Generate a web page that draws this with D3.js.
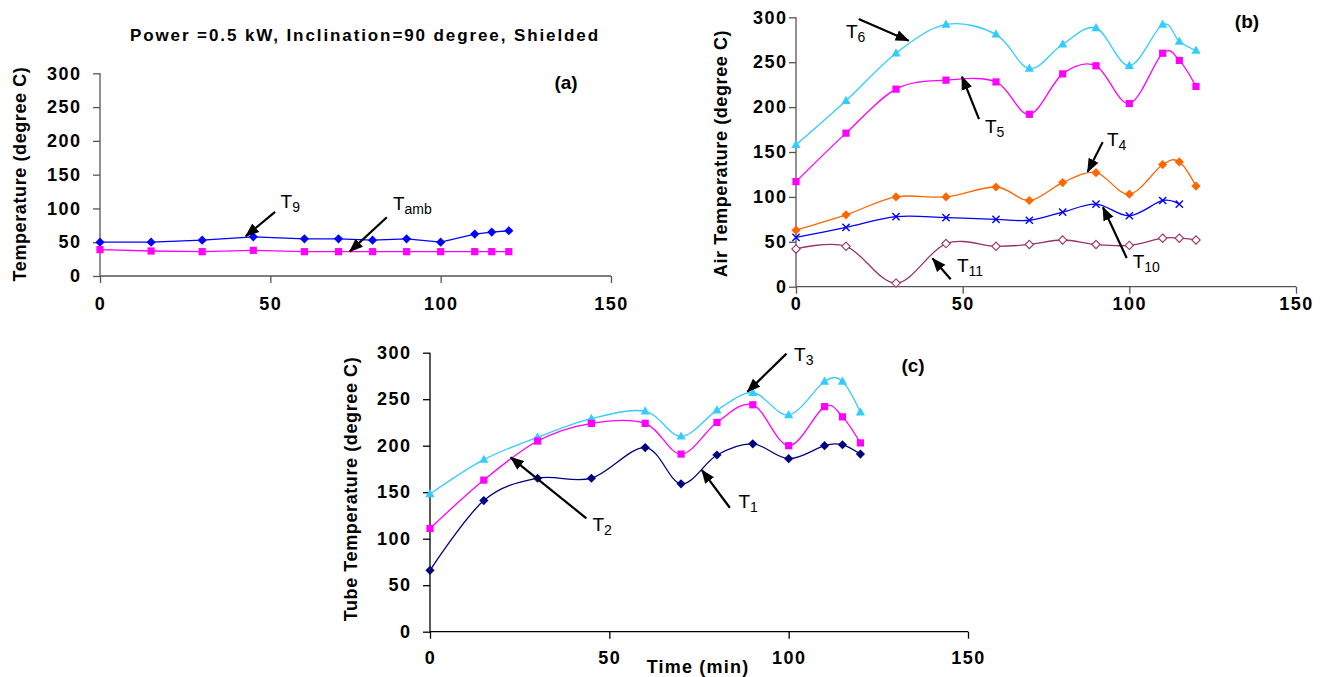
<!DOCTYPE html>
<html><head><meta charset="utf-8">
<script src="https://cdn.jsdelivr.net/npm/d3@7"></script>
<style>
body{margin:0;background:#fff;}
svg{display:block;font-family:Arial,"Liberation Sans",sans-serif;}
</style></head>
<body><svg id="c" width="1330" height="677"></svg>
<script>
// ---------------- data ----------------
const timeMin = [0, 15, 30, 45, 60, 70, 80, 90, 100, 110, 115, 120];
const xTicks = [0, 50, 100, 150];
const yTicks = [0, 50, 100, 150, 200, 250, 300];

const T9   = [50, 50, 53, 58, 55, 55, 53, 55, 50, 62, 65, 67];
const Tamb = [39, 37, 36, 38, 36, 36, 36, 36, 36, 36, 36, 36];

const T6  = [158, 207, 260, 292, 281, 243, 270, 288, 246, 292, 273, 263];
const T5  = [117, 171, 220, 230, 228, 192, 237, 246, 204, 260, 252, 223];
const T4  = [63, 80, 100, 100, 111, 96, 116, 127, 103, 136, 139, 112];
const T10 = [55, 66, 78, 77, 75, 74, 83, 92, 79, 96, 92];
const T11 = [42, 45, 4, 48, 45, 47, 52, 47, 46, 54, 54, 52];

const T3 = [148, 185, 209, 229, 237, 210, 238, 257, 233, 269, 269, 236];
const T2 = [111, 163, 205, 224, 224, 191, 225, 244, 200, 242, 231, 203];
const T1 = [66, 141, 165, 165, 198, 159, 190, 202, 186, 200, 201, 191];

const titleText = "Power =0.5 kW, Inclination=90 degree, Shielded";

// ---------------- layout ----------------
const svg = d3.select("#c");
svg.append("defs").append("marker")
  .attr("id","ah").attr("markerUnits","userSpaceOnUse")
  .attr("markerWidth",14).attr("markerHeight",12)
  .attr("viewBox","0 -6 14 12").attr("refX",13).attr("refY",0)
  .attr("orient","auto")
  .append("path").attr("d","M0,-5.5L14,0L0,5.5Z").attr("fill","#000");

const panels = [
  {id:"a", x:[100,611], y:[276,73.3], axisColor:"#555", ylabGap:20, xlabDy:35,
   ytitle:"Temperature (degree C)", ytx:26, yty:174, tag:"(a)", curve:d3.curveLinear,
   series:[
     {v:T9, color:"#0000FF", m:"diamond"},
     {v:Tamb, color:"#FF00FF", m:"square"}],
   notes:[
     {t:"T", s:"9", tx:53, ty:100, x1:51.4, y1:95, x2:42.8, y2:59},
     {t:"T", s:"amb", tx:86, ty:97.5, x1:84.2, y1:87, x2:73.3, y2:36}]},
  {id:"b", x:[796,1296], y:[286.7,17.3], axisColor:"#555", ylabGap:10, xlabDy:24.5,
   ytitle:"Air Temperature (degree C)", ytx:727, yty:153.5, tag:"(b)", curve:d3.curveCardinal.tension(0),
   series:[
     {v:T6, color:"#33CCFF", m:"triangle"},
     {v:T5, color:"#FF00FF", m:"square"},
     {v:T4, color:"#FF6600", m:"diamond"},
     {v:T10, color:"#0000FF", m:"x"},
     {v:T11, color:"#993366", m:"odiamond"}],
   notes:[
     {t:"T", s:"6", tx:15, ty:277, x1:18.8, y1:298, x2:33.8, y2:274},
     {t:"T", s:"5", tx:56.7, ty:171, x1:54.9, y1:186.6, x2:49.8, y2:234},
     {t:"T", s:"4", tx:93.3, ty:156.7, x1:92, y1:161, x2:87.5, y2:128},
     {t:"T", s:"10", tx:101, ty:20.8, x1:99.2, y1:32, x2:92.1, y2:88.4},
     {t:"T", s:"11", tx:48.3, ty:16.4, x1:46.4, y1:8.2, x2:41, y2:31.3}]},
  {id:"c", x:[430,968], y:[631.7,352.7], axisColor:"#000", ylabGap:20, xlabDy:33.5,
   ytitle:"Tube Temperature (degree C)", ytx:357, yty:489, tag:"(c)", curve:d3.curveCardinal.tension(0),
   series:[
     {v:T3, color:"#33CCFF", m:"triangle"},
     {v:T2, color:"#FF00FF", m:"square"},
     {v:T1, color:"#000080", m:"diamond"}],
   notes:[
     {t:"T", s:"3", tx:101.5, ty:291, x1:99.4, y1:299, x2:88.5, y2:258},
     {t:"T", s:"2", tx:45.3, ty:108.6, x1:43.6, y1:121.9, x2:22.5, y2:187.5},
     {t:"T", s:"1", tx:86, ty:132.6, x1:83.6, y1:133.3, x2:75.8, y2:173.8}]}
];
const tagPos = {a:[566,89], b:[1247,28], c:[913,372]};

function marker(g, type, color, x, y){
  if(type==="square"){
    g.append("rect").attr("x",x-3.6).attr("y",y-3.6).attr("width",7.2).attr("height",7.2).attr("fill",color);
  } else if(type==="diamond"){
    const r=4.6;
    g.append("path").attr("d",`M${x},${y-r}L${x+r},${y}L${x},${y+r}L${x-r},${y}Z`).attr("fill",color);
  } else if(type==="odiamond"){
    const r=4.2;
    g.append("path").attr("d",`M${x},${y-r}L${x+r},${y}L${x},${y+r}L${x-r},${y}Z`).attr("fill","#fff").attr("stroke",color).attr("stroke-width",1.1);
  } else if(type==="triangle"){
    g.append("path").attr("d",`M${x},${y-5}L${x+4.6},${y+3.2}L${x-4.6},${y+3.2}Z`).attr("fill",color);
  } else if(type==="x"){
    const r=3.6;
    g.append("path").attr("d",`M${x-r},${y-r}L${x+r},${y+r}M${x-r},${y+r}L${x+r},${y-r}`).attr("stroke",color).attr("stroke-width",1.4);
  }
}

panels.forEach(p=>{
  const x = d3.scaleLinear().domain([0,150]).range(p.x);
  const y = d3.scaleLinear().domain([0,300]).range(p.y);
  const g = svg.append("g");

  const xa = g.append("g").attr("transform",`translate(0,${p.y[0]})`)
    .call(d3.axisBottom(x).tickValues(xTicks).tickSize(7).tickPadding(p.xlabDy-7-13.5));
  const ya = g.append("g").attr("transform",`translate(${p.x[0]},0)`)
    .call(d3.axisLeft(y).tickValues(yTicks).tickSize(7).tickPadding(p.ylabGap-7-1.5));
  [xa,ya].forEach(a=>{
    a.select(".domain").attr("stroke",p.axisColor).attr("stroke-width",1.3);
    a.selectAll(".tick line").attr("stroke",p.axisColor).attr("stroke-width",1.3);
    a.selectAll("text").attr("fill","#000").attr("font-size",18).attr("font-weight","bold")
      .attr("font-family","Arial, 'Liberation Sans', sans-serif").style("letter-spacing","1.5px");
  });
  xa.select(".domain").attr("d",`M${p.x[0]},0H${p.x[1]}`);
  ya.select(".domain").attr("d",`M0,${p.y[0]}V${p.y[1]}`);

  g.append("text").attr("transform",`translate(${p.ytx},${p.yty}) rotate(-90)`)
    .attr("text-anchor","middle").attr("font-size",18).attr("font-weight","bold")
    .style("letter-spacing","0.6px").text(p.ytitle);
  g.append("text").attr("x",tagPos[p.id][0]).attr("y",tagPos[p.id][1]).attr("text-anchor","middle")
    .attr("font-size",19).attr("font-weight","bold").text(p.tag);

  p.series.forEach(s=>{
    const pts = s.v.map((v,i)=>[x(timeMin[i]), y(v)]);
    g.append("path").attr("d",d3.line().curve(p.curve)(pts)).attr("fill","none")
      .attr("stroke",s.color).attr("stroke-width",1.3);
    const mg = g.append("g");
    pts.forEach(pt=>marker(mg,s.m,s.color,pt[0],pt[1]));
  });

  p.notes.forEach(n=>{
    g.append("line").attr("x1",x(n.x1)).attr("y1",y(n.y1)).attr("x2",x(n.x2)).attr("y2",y(n.y2))
      .attr("stroke","#000").attr("stroke-width",2.2).attr("marker-end","url(#ah)");
    const t = g.append("text").attr("x",x(n.tx)).attr("y",y(n.ty)).attr("font-size",19);
    t.append("tspan").text(n.t);
    t.append("tspan").attr("font-size",14).attr("dy",4).text(n.s);
  });
});

svg.append("text").attr("x",365).attr("y",41).attr("text-anchor","middle")
  .attr("font-size",17).attr("font-weight","bold").style("letter-spacing","1.9px").text(titleText);
svg.append("text").attr("x",698).attr("y",673).attr("text-anchor","middle")
  .attr("font-size",18).attr("font-weight","bold").style("letter-spacing","1.2px").text("Time (min)");
</script></body></html>
